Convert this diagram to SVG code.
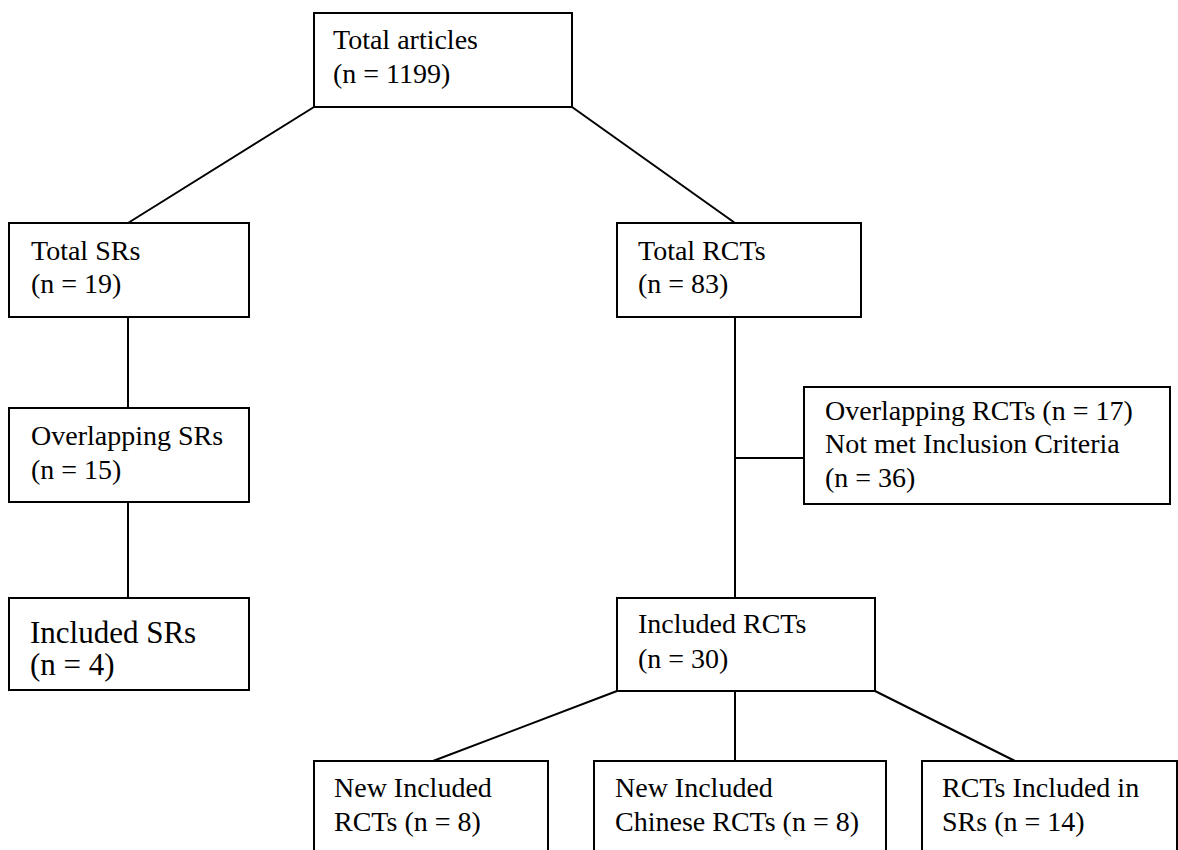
<svg xmlns="http://www.w3.org/2000/svg" width="1178" height="850" viewBox="0 0 1178 850">
<style>
.box{fill:#fff;stroke:#000;stroke-width:2}
.ln{stroke:#000;stroke-width:2;fill:none}
text{font-family:"Liberation Serif","Times New Roman",serif;font-size:28px;fill:#000}
.big{font-size:31px}
</style>
<rect width="1178" height="850" fill="#fff"/>
<g id="connectors">
<line class="ln" x1="314" y1="107" x2="128" y2="223"/>
<line class="ln" x1="572" y1="107" x2="735" y2="223"/>
<line class="ln" x1="128" y1="317" x2="128" y2="408"/>
<line class="ln" x1="128" y1="502" x2="128" y2="598"/>
<line class="ln" x1="735" y1="317" x2="735" y2="598"/>
<line class="ln" x1="735" y1="458" x2="804" y2="458"/>
<line class="ln" x1="617" y1="691" x2="433" y2="761"/>
<line class="ln" x1="735" y1="691" x2="735" y2="761"/>
<line class="ln" x1="875" y1="691" x2="1015" y2="761"/>
</g>
<g id="total-articles">
<rect class="box" x="314" y="13" width="258" height="94"/>
<text x="333" y="49">Total articles</text>
<text x="333" y="83">(n = 1199)</text>
</g>
<g id="total-srs">
<rect class="box" x="9" y="223" width="240" height="94"/>
<text x="31" y="260">Total SRs</text>
<text x="31" y="293">(n = 19)</text>
</g>
<g id="total-rcts">
<rect class="box" x="617" y="223" width="244" height="94"/>
<text x="638" y="260">Total RCTs</text>
<text x="638" y="293">(n = 83)</text>
</g>
<g id="overlapping-srs">
<rect class="box" x="9" y="408" width="240" height="94"/>
<text x="31" y="445">Overlapping SRs</text>
<text x="31" y="479">(n = 15)</text>
</g>
<g id="overlapping-rcts">
<rect class="box" x="804" y="387" width="366" height="117"/>
<text x="825" y="420">Overlapping RCTs (n = 17)</text>
<text x="825" y="453">Not met Inclusion Criteria</text>
<text x="825" y="487">(n = 36)</text>
</g>
<g id="included-srs">
<rect class="box" x="9" y="598" width="240" height="92"/>
<text class="big" x="30" y="643">Included SRs</text>
<text class="big" x="30" y="675">(n = 4)</text>
</g>
<g id="included-rcts">
<rect class="box" x="617" y="598" width="258" height="93"/>
<text x="638" y="633">Included RCTs</text>
<text x="638" y="668">(n = 30)</text>
</g>
<g id="new-included-rcts">
<rect class="box" x="314" y="761" width="234" height="100"/>
<text x="334" y="797">New Included</text>
<text x="334" y="831">RCTs (n = 8)</text>
</g>
<g id="new-included-chinese-rcts">
<rect class="box" x="594" y="761" width="292" height="100"/>
<text x="615" y="797">New Included</text>
<text x="615" y="831">Chinese RCTs (n = 8)</text>
</g>
<g id="rcts-included-in-srs">
<rect class="box" x="922" y="761" width="255" height="100"/>
<text x="942" y="797">RCTs Included in</text>
<text x="942" y="831">SRs (n = 14)</text>
</g>
</svg>
